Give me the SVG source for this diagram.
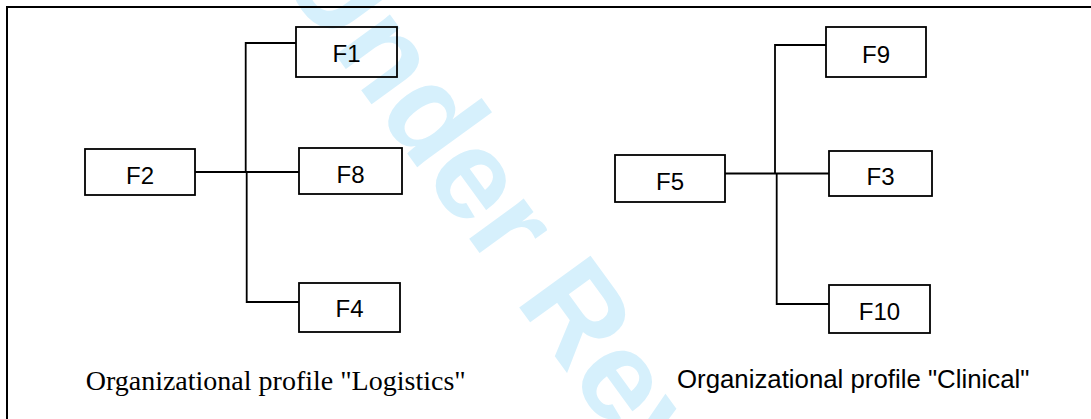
<svg xmlns="http://www.w3.org/2000/svg" width="1091" height="419" viewBox="0 0 1091 419">
<style>
.box{fill:none;stroke:#000;stroke-width:1.8}
.lbl{font-family:"Liberation Sans",Arial,sans-serif;font-size:24px;fill:#000;text-anchor:middle}
.conn path{fill:none;stroke:#000;stroke-width:1.8}
.wm{font-family:"Liberation Sans",Arial,sans-serif;font-weight:bold;font-size:128px;fill:#d6f0fc}
</style>
<rect width="1091" height="419" fill="#fff"/>
<text class="wm" transform="translate(276,-27.4) rotate(54)">Under Review</text>
<rect x="7" y="7" width="1100" height="430" fill="none" stroke="#000" stroke-width="2"/>
<g class="conn" id="connectors">
<path d="M296 43 H245.7 V172"/>
<path d="M195 172 H299"/>
<path d="M246.7 172 V302 H299"/>
<path d="M826 45 H775 V173.5"/>
<path d="M725 173.5 H829"/>
<path d="M776.7 173.5 V304 H829"/>
</g>
<g id="F2"><rect class="box" x="85" y="149" width="110" height="46"/><text class="lbl" x="140" y="184">F2</text></g>
<g id="F1"><rect class="box" x="296" y="27" width="101" height="50"/><text class="lbl" x="346.5" y="61.7">F1</text></g>
<g id="F8"><rect class="box" x="299" y="148" width="103" height="46"/><text class="lbl" x="350.5" y="183.3">F8</text></g>
<g id="F4"><rect class="box" x="299" y="283" width="101" height="49"/><text class="lbl" x="349.5" y="316.7">F4</text></g>
<g id="F5"><rect class="box" x="615" y="155" width="110" height="47"/><text class="lbl" x="670" y="190">F5</text></g>
<g id="F9"><rect class="box" x="826" y="27" width="100" height="50"/><text class="lbl" x="876" y="62.7">F9</text></g>
<g id="F3"><rect class="box" x="829" y="151" width="103" height="45"/><text class="lbl" x="880.5" y="185">F3</text></g>
<g id="F10"><rect class="box" x="829" y="285" width="101" height="48"/><text class="lbl" x="879.5" y="320">F10</text></g>
<text x="85.7" y="390" font-family="'Liberation Serif','Times New Roman',serif" font-size="28" fill="#000">Organizational profile "Logistics"</text>
<text x="677" y="388.3" font-family="'Liberation Sans',Arial,sans-serif" font-size="25.8" fill="#000">Organizational profile "Clinical"</text>
</svg>
